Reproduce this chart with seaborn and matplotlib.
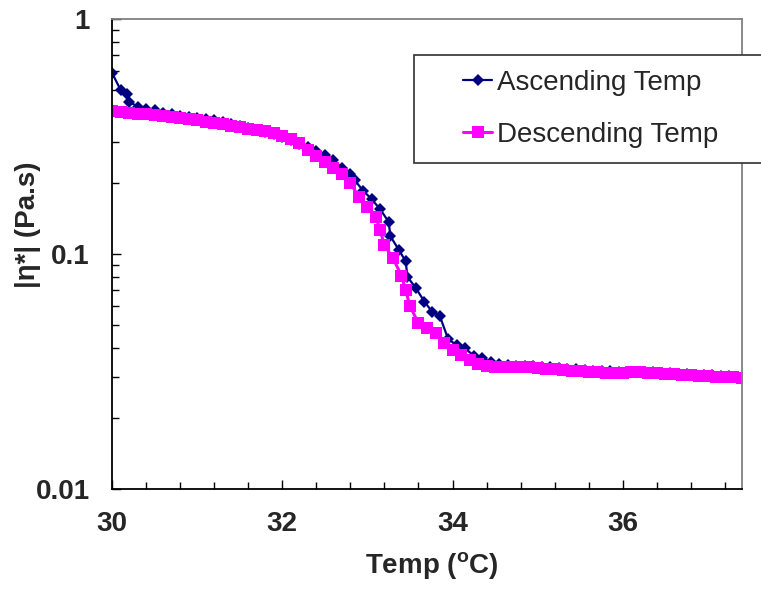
import numpy as np
import pandas as pd
import matplotlib
matplotlib.use('Agg')
import matplotlib.pyplot as plt
from matplotlib.patches import Rectangle
from matplotlib.ticker import MultipleLocator, LogLocator, NullFormatter
import seaborn as sns

# ─────────────────────────────────────────────
# Data
# ─────────────────────────────────────────────
asc_temp = [30.0, 30.1, 30.18, 30.2, 30.3, 30.4, 30.5, 30.6, 30.7, 30.8, 30.9,
            31.0, 31.1, 31.2, 31.3, 31.4, 31.5, 31.6, 31.7, 31.8, 31.9,
            32.0, 32.1, 32.2, 32.3, 32.4, 32.5, 32.6, 32.7, 32.8, 32.85,
            32.95, 33.05, 33.15, 33.25, 33.27, 33.37, 33.45, 33.47, 33.57,
            33.67, 33.76, 33.85, 33.95, 34.05, 34.15, 34.25, 34.35, 34.45,
            34.55, 34.65, 34.75, 34.85, 34.95, 35.05, 35.15, 35.25, 35.35,
            35.45, 35.55, 35.65, 35.75, 35.85, 35.95, 36.05, 36.15, 36.25,
            36.35, 36.45, 36.55, 36.65, 36.75, 36.85, 36.95, 37.05, 37.15,
            37.25, 37.35]
asc_eta = [0.59, 0.50, 0.478, 0.445, 0.424, 0.416, 0.410, 0.400, 0.394, 0.388,
           0.384, 0.380, 0.376, 0.370, 0.363, 0.356, 0.349, 0.343, 0.337,
           0.331, 0.323, 0.315, 0.305, 0.295, 0.285, 0.275, 0.265, 0.252,
           0.232, 0.218, 0.206, 0.186, 0.171, 0.155, 0.137, 0.119, 0.104,
           0.093, 0.080, 0.0715, 0.0627, 0.0568, 0.0545, 0.0433, 0.041,
           0.0397, 0.0368, 0.036, 0.0347, 0.0340, 0.0337, 0.0335, 0.0334,
           0.0333, 0.0331, 0.0329, 0.0327, 0.0325, 0.0323, 0.0321, 0.0319,
           0.0318, 0.0317, 0.0316, 0.0316, 0.0316, 0.0316, 0.0315, 0.0313,
           0.0311, 0.0310, 0.0308, 0.0307, 0.0306, 0.0305, 0.0304, 0.0302,
           0.0301]

desc_temp = [30.0, 30.1, 30.2, 30.3, 30.4, 30.5, 30.6, 30.7, 30.8, 30.9,
             31.0, 31.1, 31.2, 31.3, 31.4, 31.5, 31.6, 31.7, 31.8, 31.9,
             32.0, 32.1, 32.2, 32.3, 32.4, 32.5, 32.6, 32.7, 32.8, 32.9,
             33.0, 33.1, 33.15, 33.2, 33.3, 33.4, 33.45, 33.5, 33.6, 33.7,
             33.8, 33.9, 34.0, 34.1, 34.2, 34.3, 34.4, 34.5, 34.6, 34.7,
             34.8, 34.9, 35.0, 35.1, 35.2, 35.3, 35.4, 35.5, 35.6, 35.7,
             35.8, 35.9, 36.0, 36.1, 36.2, 36.3, 36.4, 36.5, 36.6, 36.7,
             36.8, 36.9, 37.0, 37.1, 37.2, 37.3, 37.4]
desc_eta = [0.405, 0.402, 0.399, 0.396, 0.393, 0.390, 0.386, 0.382, 0.378,
            0.374, 0.370, 0.366, 0.362, 0.357, 0.352, 0.347, 0.342, 0.338,
            0.334, 0.327, 0.319, 0.309, 0.296, 0.278, 0.262, 0.247, 0.232,
            0.218, 0.200, 0.175, 0.159, 0.144, 0.126, 0.109, 0.096, 0.081,
            0.070, 0.060, 0.0507, 0.0483, 0.046, 0.0417, 0.039, 0.0372,
            0.0355, 0.0342, 0.0333, 0.0332, 0.0331, 0.0331, 0.0330, 0.0329,
            0.0327, 0.0325, 0.0323, 0.0321, 0.0319, 0.0317, 0.0315, 0.0314,
            0.0313, 0.0313, 0.0313, 0.0314, 0.0314, 0.0313, 0.0311, 0.0309,
            0.0308, 0.0306, 0.0305, 0.0304, 0.0303, 0.0301, 0.0300, 0.0299,
            0.0298]

series_labels = ['Ascending Temp', 'Descending Temp']
x_ticks = [30, 32, 34, 36]
y_ticks = [0.01, 0.1, 1]
y_tick_labels = ['0.01', '0.1', '1']

# ─────────────────────────────────────────────
# Style
# ─────────────────────────────────────────────
sns.set_style('white')
plt.rcParams['font.family'] = ['Liberation Sans', 'DejaVu Sans']
plt.rcParams['mathtext.fontset'] = 'custom'
plt.rcParams['mathtext.rm'] = 'Liberation Sans:bold'
plt.rcParams['mathtext.it'] = 'Liberation Sans:bold'
plt.rcParams['mathtext.bf'] = 'Liberation Sans:bold'

fig = plt.figure(figsize=(7.61, 5.90), dpi=100)
ax = fig.add_axes([112 / 761, 1 - 489 / 590, 630 / 761, 470 / 590])

asc = pd.DataFrame({'temp': asc_temp, 'eta': asc_eta})
desc = pd.DataFrame({'temp': desc_temp, 'eta': desc_eta})

sns.lineplot(data=asc, x='temp', y='eta', ax=ax, estimator=None, sort=False,
             color='#000080', linewidth=1.6, marker='D', markersize=6.5,
             markeredgewidth=0)
sns.lineplot(data=desc, x='temp', y='eta', ax=ax, estimator=None, sort=False,
             color='#FF00FF', linewidth=2.2, marker='s', markersize=8,
             markeredgewidth=0)

ax.set_yscale('log')
ax.set_xlim(30, 37.4)
ax.set_ylim(0.01, 1)

ax.set_xticks(x_ticks)
ax.set_xticklabels([str(t) for t in x_ticks], fontsize=20, fontweight='bold')
ax.xaxis.set_minor_locator(MultipleLocator(0.4))
ax.set_yticks(y_ticks)
ax.set_yticklabels(y_tick_labels, fontsize=20, fontweight='bold')
ax.yaxis.set_minor_locator(LogLocator(base=10, subs=np.arange(2, 10)))
ax.yaxis.set_minor_formatter(NullFormatter())

ax.tick_params(which='both', direction='in', color='black', width=1,
               bottom=True, left=True, top=False, right=False)
ax.tick_params(which='major', length=6.5, pad=16)
ax.tick_params(which='minor', length=5)

for side in ['left', 'bottom']:
    ax.spines[side].set_color('black')
    ax.spines[side].set_linewidth(1.3)
for side in ['top', 'right']:
    ax.spines[side].set_color('#808080')
    ax.spines[side].set_linewidth(1.3)

ax.set_xlabel(r'Temp ($^{o}$C)', fontsize=20, fontweight='bold', va='center')
ax.xaxis.set_label_coords(0.508, -0.162)
ax.set_ylabel('|η*| (Pa.s)', fontsize=20, fontweight='bold', va='center')
ax.yaxis.set_label_coords(-0.133, 0.562)

# Legend box (runs off the right edge like the original)
fig.patches.append(Rectangle((414 / 761, 1 - 163 / 590), 361 / 761, 108 / 590,
                             transform=fig.transFigure, facecolor='white',
                             edgecolor='#303030', linewidth=1.2, zorder=1))
fig.legend(ax.lines[:2], series_labels, loc='upper left',
           bbox_to_anchor=(463 / 761, 1 - 70 / 590), frameon=False,
           fontsize=20, borderpad=0, borderaxespad=0, handlelength=1.05,
           handletextpad=0.18, labelspacing=0.94)

fig.savefig('out.png', dpi=100)
